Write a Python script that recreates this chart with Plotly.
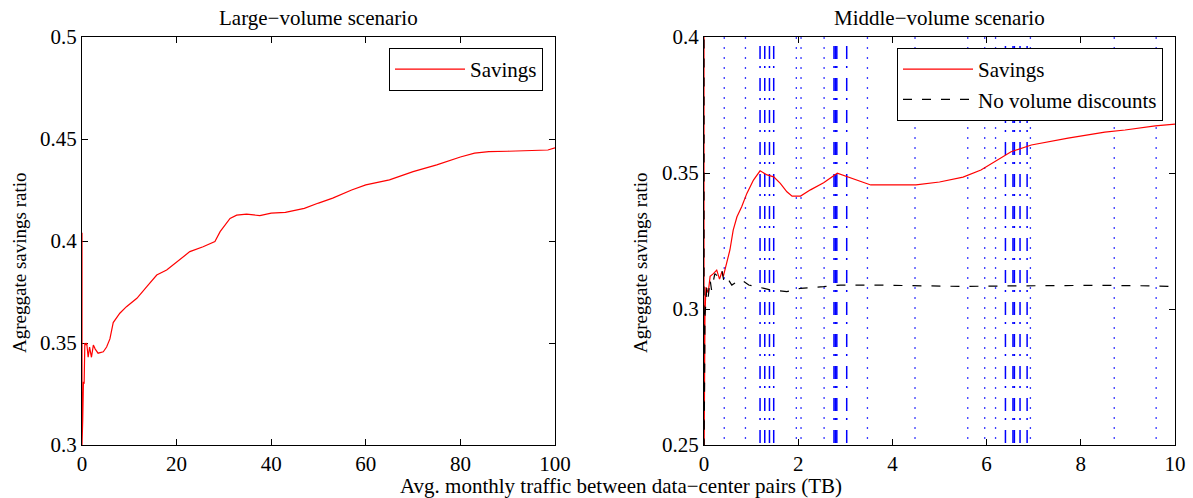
import plotly.graph_objects as go

# ---------------- data ----------------
large_x = [0, 0, 0.15, 0.3, 0.45, 0.6, 0.8, 1.0, 1.3, 1.6, 2.0, 2.4, 2.8, 3.4, 4.5, 5.2,
           5.9, 6.6, 8.0, 9.4, 11.6, 13.7, 15.8, 17.9, 20, 22.8, 25.6, 28.1, 29.2, 31.3,
           32.7, 34.8, 37.6, 40, 43, 47, 50, 53, 57, 60, 65, 70, 75, 80, 83, 86, 90,
           94, 97, 98.5, 100]
large_sav = [0.404, 0.300, 0.312, 0.331, 0.330, 0.350, 0.349, 0.350, 0.343, 0.348, 0.343,
             0.349, 0.347, 0.345, 0.3457, 0.348, 0.352, 0.360, 0.3646, 0.3678, 0.3719,
             0.3776, 0.3833, 0.3858, 0.3898, 0.3948, 0.3972, 0.3997, 0.4046, 0.4111,
             0.4127, 0.4132, 0.4124, 0.4137, 0.414, 0.416, 0.4186, 0.421, 0.425, 0.4275,
             0.430, 0.434, 0.4373, 0.4412, 0.4431, 0.4438, 0.444, 0.4442, 0.4446, 0.4446,
             0.4457]

mid_x = [0, 0, 0.02, 0.04, 0.09, 0.13, 0.2, 0.27, 0.33, 0.38, 0.41, 0.48, 0.55, 0.62,
         0.70, 0.80, 0.91, 1.05, 1.19, 1.34, 1.48, 1.62, 1.76, 1.87, 2.05, 2.26, 2.54,
         2.83, 3.04, 3.26, 3.54, 3.97, 4.5, 5.0, 5.5, 5.88, 6.17, 6.52, 6.95, 7.31, 7.73,
         8.51, 8.94, 9.58, 10.0]
mid_sav = [0.42, 0.24, 0.297, 0.308, 0.306, 0.312, 0.313, 0.3143, 0.311, 0.3137, 0.312,
           0.3168, 0.3217, 0.329, 0.3339, 0.3376, 0.3425, 0.3474, 0.3508, 0.3493, 0.3486,
           0.3462, 0.3431, 0.3415, 0.3415, 0.3438, 0.3464, 0.3499, 0.3486, 0.3474, 0.3456,
           0.3456, 0.3456, 0.3467, 0.3485, 0.3511, 0.3542, 0.3578, 0.3603, 0.3615, 0.3628,
           0.365, 0.3658, 0.3673, 0.368]

nod_x = [0, 0, 0.02, 0.06, 0.09, 0.13, 0.16, 0.23, 0.30, 0.38, 0.43, 0.52, 0.59, 0.70,
         0.80, 0.95, 1.12, 1.41, 1.76, 2.05, 2.54, 2.9, 3.61, 4.5, 5.5, 6.5, 7.5, 8.5,
         9.5, 10]
nod_sav = [0.42, 0.24, 0.297, 0.308, 0.3045, 0.3107, 0.307, 0.313, 0.3119, 0.3143, 0.3094,
           0.3107, 0.3088, 0.31, 0.3107, 0.3088, 0.3082, 0.307, 0.3064, 0.3076, 0.3082,
           0.3088, 0.3088, 0.3085, 0.3083, 0.3085, 0.3086, 0.3087, 0.3085, 0.3082]

# vertical blue marker lines in the middle-volume panel
dashdot_x = [1.19, 1.29, 1.39, 1.48, 2.76, 2.79, 2.82, 3.03, 6.40, 6.56, 6.59, 6.71, 6.86]
dotted_x = [0.43, 0.88, 1.96, 2.06, 2.55, 3.47, 4.48, 5.60, 5.96, 6.19, 6.93, 8.71, 9.60]

large_xticks = [0, 20, 40, 60, 80, 100]
large_yticks = [0.3, 0.35, 0.4, 0.45, 0.5]
large_yticklabels = ["0.3", "0.35", "0.4", "0.45", "0.5"]
mid_xticks = [0, 2, 4, 6, 8, 10]
mid_yticks = [0.25, 0.3, 0.35, 0.4]
mid_yticklabels = ["0.25", "0.3", "0.35", "0.4"]

# ---------------- figure ----------------
W, H = 1193, 498
FONT = "Liberation Serif"

def px_x(p):
    return p / W

def px_y(p):
    return 1 - p / H

fig = go.Figure()

fig.add_trace(go.Scatter(x=large_x, y=large_sav, mode="lines", name="Savings",
                         line=dict(color="#ff0000", width=1.2),
                         xaxis="x", yaxis="y", legend="legend"))

mid_ylo, mid_yhi = mid_yticks[0], mid_yticks[-1]
for xv in dotted_x:
    fig.add_trace(go.Scatter(x=[xv, xv], y=[mid_yhi, mid_ylo], mode="lines",
                             line=dict(color="#3a3aff", width=1.3, dash="2px,8px"),
                             showlegend=False, hoverinfo="skip",
                             xaxis="x2", yaxis="y2"))
for xv in dashdot_x:
    fig.add_trace(go.Scatter(x=[xv, xv], y=[mid_yhi, mid_ylo], mode="lines",
                             line=dict(color="#0000ff", width=1.5,
                                       dash="0px,9px,13px,7px,2px,1px"),
                             showlegend=False, hoverinfo="skip",
                             xaxis="x2", yaxis="y2"))

fig.add_trace(go.Scatter(x=mid_x, y=mid_sav, mode="lines", name="Savings",
                         line=dict(color="#ff0000", width=1.2),
                         xaxis="x2", yaxis="y2", legend="legend2"))
fig.add_trace(go.Scatter(x=nod_x, y=nod_sav, mode="lines", name="No volume discounts",
                         line=dict(color="#000000", width=1.2, dash="9px,10px"),
                         xaxis="x2", yaxis="y2", legend="legend2"))

axis_common = dict(showline=True, linecolor="black", linewidth=1, mirror="allticks",
                   ticks="inside", ticklen=6, tickcolor="black", showgrid=False,
                   zeroline=False, automargin=False,
                   tickfont=dict(family=FONT, size=21, color="black"))

L0, L1 = 82, 555
R0, R1 = 704, 1175
T, B = 37, 445

legend_common = dict(xanchor="right", yanchor="top", bgcolor="white",
                     bordercolor="black", borderwidth=1,
                     font=dict(family=FONT, size=21, color="black"),
                     itemwidth=70, tracegroupgap=0)

fig.update_layout(
    width=W, height=H,
    margin=dict(l=0, r=0, t=0, b=0, pad=0, autoexpand=False),
    paper_bgcolor="white", plot_bgcolor="white",
    font=dict(family=FONT, size=21, color="black"),
    xaxis=dict(domain=[px_x(L0), px_x(L1)], range=[0, 100], tickvals=large_xticks,
               anchor="y", **axis_common),
    yaxis=dict(domain=[px_y(B), px_y(T)], range=[0.3, 0.5], tickvals=large_yticks,
               ticktext=large_yticklabels, anchor="x", layer="below traces",
               **axis_common),
    xaxis2=dict(domain=[px_x(R0), px_x(R1)], range=[0, 10], tickvals=mid_xticks,
                anchor="y2", **axis_common),
    yaxis2=dict(domain=[px_y(B), px_y(T)], range=[mid_ylo, mid_yhi], tickvals=mid_yticks,
                ticktext=mid_yticklabels, anchor="x2", layer="below traces",
                **axis_common),
    legend=dict(x=px_x(543), y=px_y(48), **legend_common),
    legend2=dict(x=px_x(1163), y=px_y(48), **legend_common),
    showlegend=True,
)

ann = [
    dict(text="Large\u2212volume scenario", x=px_x((L0 + L1) / 2), y=px_y(18)),
    dict(text="Middle\u2212volume scenario", x=px_x((R0 + R1) / 2), y=px_y(18)),
    dict(text="Avg. monthly traffic between data\u2212center pairs (TB)", x=px_x(621), y=px_y(486)),
    dict(text="Agreggate savings ratio", x=px_x(19), y=px_y(263), textangle=-90, size=19),
    dict(text="Agreggate savings ratio", x=px_x(640), y=px_y(263), textangle=-90, size=19),
]
for a in ann:
    fig.add_annotation(text=a["text"], x=a["x"], y=a["y"], xref="paper", yref="paper",
                       xanchor="center", yanchor="middle", showarrow=False,
                       textangle=a.get("textangle", 0),
                       font=dict(family=FONT, size=a.get("size", 21), color="black"))

fig.write_html("out.html")
